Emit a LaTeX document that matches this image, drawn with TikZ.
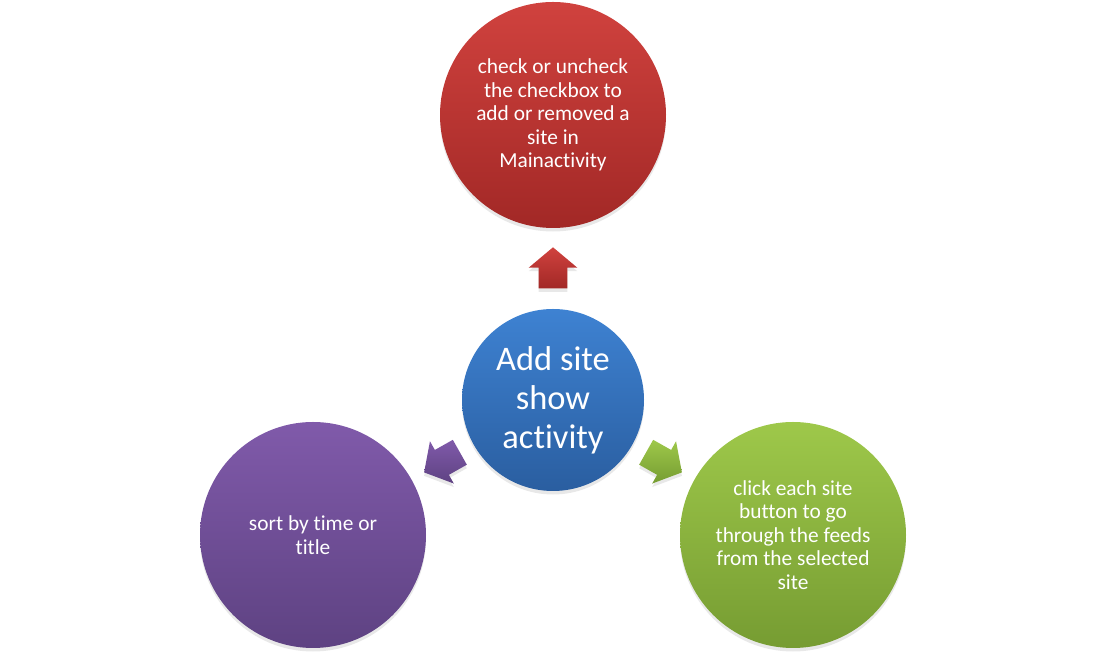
\documentclass[tikz,border=0pt]{standalone}
\usepackage{fontspec}
\setmainfont{Carlito}[Ligatures=NoCommon]
\usetikzlibrary{shapes.arrows,shadows}

\definecolor{redtop}{RGB}{208,66,62}
\definecolor{redbot}{RGB}{162,40,38}
\definecolor{bluetop}{RGB}{62,130,210}
\definecolor{bluebot}{RGB}{42,94,160}
\definecolor{greentop}{RGB}{158,200,74}
\definecolor{greenbot}{RGB}{118,156,50}
\definecolor{purptop}{RGB}{128,90,170}
\definecolor{purpbot}{RGB}{94,66,130}

\begin{document}
\begin{tikzpicture}[
  soft/.style={drop shadow={opacity=0.18, shadow xshift=0pt, shadow yshift=-2.5pt}},
  bubble/.style={circle, minimum size=5.65cm, inner sep=0pt, align=center,
    text=white, font=\fontsize{15.2}{16.7}\selectfont, soft},
  hub/.style={circle, minimum size=4.55cm, inner sep=0pt, align=center,
    text=white, font=\fontsize{24.5}{27.8}\selectfont, soft,
    top color=bluetop, bottom color=bluebot},
  blockarrow/.style={single arrow, minimum height=1.025cm,
    single arrow head extend=0.25cm, single arrow tip angle=100,
    inner xsep=0pt, inner ysep=0.35cm, soft}
]
  \useasboundingbox (0,0) rectangle (27.675,16.525);

  % outer circles
  \node[bubble, top color=redtop, bottom color=redbot] (check) at (13.825,13.65)
    {check or uncheck\\the checkbox to\\add or removed a\\site in\\Mainactivity};
  \node[bubble, top color=purptop, bottom color=purpbot] (sort) at (7.825,3.15)
    {sort by time or\\title};
  \node[bubble, top color=greentop, bottom color=greenbot] (click) at (19.825,3.15)
    {click each site\\button to go\\through the feeds\\from the selected\\site};

  % centre
  \node[hub] (main) at (13.825,6.525) {Add site\\show\\activity};

  % block arrows
  \node[blockarrow, rotate=90, top color=redtop, bottom color=redbot]
    (toCheck) at (13.825,9.68) {};
  \node[blockarrow, rotate=209.4, top color=purptop, bottom color=purpbot]
    (toSort) at (11.18,5.04) {};
  \node[blockarrow, rotate=-29.4, top color=greentop, bottom color=greenbot]
    (toClick) at (16.47,5.04) {};
\end{tikzpicture}
\end{document}
